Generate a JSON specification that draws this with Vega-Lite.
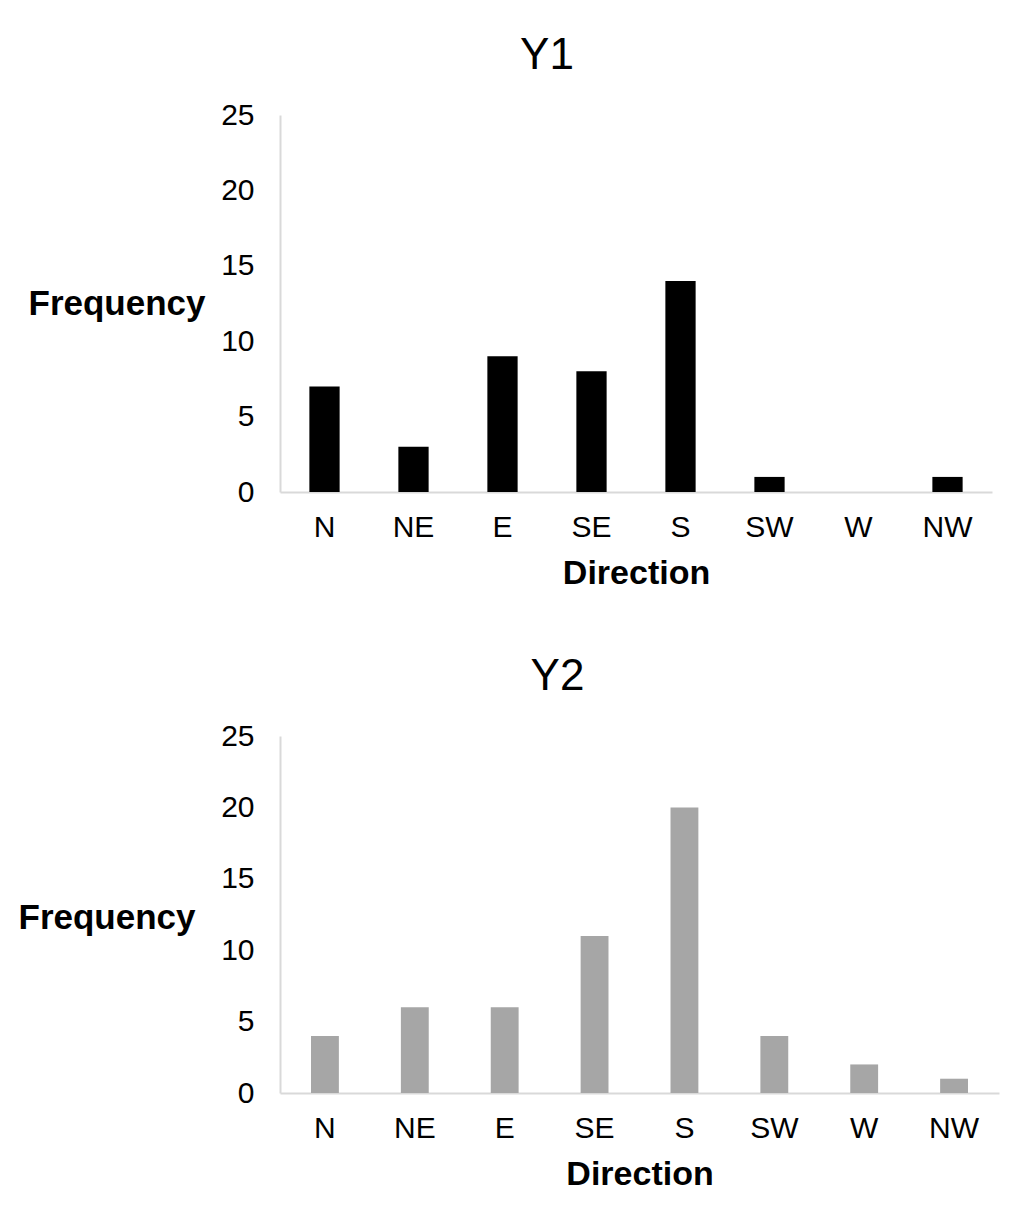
{
  "$schema": "https://vega.github.io/schema/vega-lite/v6.json",
  "background": "white",
  "padding": {"left": 18, "top": 34, "right": 20, "bottom": 10},
  "data": {
    "values": [
      {"panel": "Y1", "Direction": "N", "Frequency": 7},
      {"panel": "Y1", "Direction": "NE", "Frequency": 3},
      {"panel": "Y1", "Direction": "E", "Frequency": 9},
      {"panel": "Y1", "Direction": "SE", "Frequency": 8},
      {"panel": "Y1", "Direction": "S", "Frequency": 14},
      {"panel": "Y1", "Direction": "SW", "Frequency": 1},
      {"panel": "Y1", "Direction": "W", "Frequency": 0},
      {"panel": "Y1", "Direction": "NW", "Frequency": 1},
      {"panel": "Y2", "Direction": "N", "Frequency": 4},
      {"panel": "Y2", "Direction": "NE", "Frequency": 6},
      {"panel": "Y2", "Direction": "E", "Frequency": 6},
      {"panel": "Y2", "Direction": "SE", "Frequency": 11},
      {"panel": "Y2", "Direction": "S", "Frequency": 20},
      {"panel": "Y2", "Direction": "SW", "Frequency": 4},
      {"panel": "Y2", "Direction": "W", "Frequency": 2},
      {"panel": "Y2", "Direction": "NW", "Frequency": 1}
    ]
  },
  "spacing": 65,
  "vconcat": [
    {
      "title": {"text": "Y1", "dx": -89},
      "width": 712,
      "height": 377,
      "transform": [{"filter": "datum.panel == 'Y1'"}],
      "mark": {"type": "bar", "color": "#000000"},
      "encoding": {
        "x": {
          "field": "Direction",
          "type": "nominal",
          "sort": ["N", "NE", "E", "SE", "S", "SW", "W", "NW"],
          "scale": {"paddingInner": 0.66, "paddingOuter": 0.33},
          "axis": {"title": "Direction", "labelAngle": 0}
        },
        "y": {
          "field": "Frequency",
          "type": "quantitative",
          "scale": {"domain": [0, 25]},
          "axis": {
            "values": [0, 5, 10, 15, 20, 25],
            "title": "Frequency",
            "titleX": -75,
            "titleY": 188
          }
        }
      }
    },
    {
      "title": {"text": "Y2", "dx": -82},
      "width": 719,
      "height": 357,
      "transform": [{"filter": "datum.panel == 'Y2'"}],
      "mark": {"type": "bar", "color": "#a6a6a6"},
      "encoding": {
        "x": {
          "field": "Direction",
          "type": "nominal",
          "sort": ["N", "NE", "E", "SE", "S", "SW", "W", "NW"],
          "scale": {"paddingInner": 0.69, "paddingOuter": 0.345},
          "axis": {"title": "Direction", "labelAngle": 0}
        },
        "y": {
          "field": "Frequency",
          "type": "quantitative",
          "scale": {"domain": [0, 25]},
          "axis": {
            "values": [0, 5, 10, 15, 20, 25],
            "title": "Frequency",
            "titleX": -85,
            "titleY": 181
          }
        }
      }
    }
  ],
  "config": {
    "font": "Liberation Sans",
    "view": {"stroke": null},
    "title": {"fontSize": 44, "fontWeight": "normal", "color": "#000000", "offset": 22, "anchor": "middle"},
    "axis": {
      "domainColor": "#d9d9d9",
      "domainWidth": 2,
      "ticks": false,
      "grid": false,
      "labelFontSize": 30,
      "labelColor": "#000000",
      "labelFont": "Liberation Sans",
      "titleFont": "Liberation Sans",
      "titleFontWeight": "bold",
      "titleColor": "#000000"
    },
    "axisX": {"labelPadding": 20, "titlePadding": 14, "titleFontSize": 34},
    "axisY": {
      "labelPadding": 26,
      "titleFontSize": 35,
      "titleAngle": 0,
      "titleAlign": "right",
      "titleBaseline": "middle"
    }
  }
}
